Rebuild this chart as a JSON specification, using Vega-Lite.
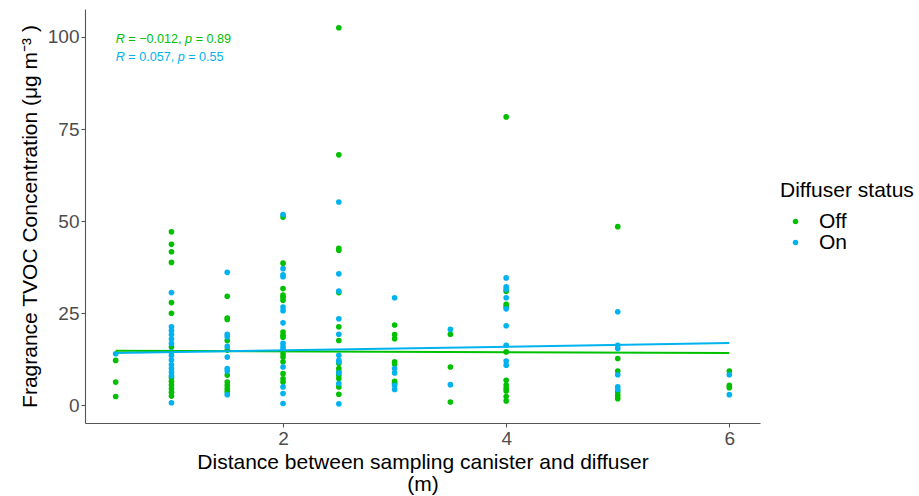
{
  "$schema": "https://vega.github.io/schema/vega-lite/v6.json",
  "width": 675,
  "height": 414,
  "autosize": {"type": "none"},
  "padding": {"left": 85, "top": 9, "right": 159, "bottom": 73},
  "background": "white",
  "config": {
    "view": {"stroke": null},
    "font": "Liberation Sans",
    "axis": {
      "grid": false,
      "domainColor": "#555555",
      "domainWidth": 1.1,
      "tickColor": "#555555",
      "tickWidth": 1.1,
      "tickSize": 4,
      "labelFont": "Liberation Sans",
      "labelFontSize": 19,
      "labelColor": "#4D4D4D",
      "labelPadding": 2,
      "titleFont": "Liberation Sans",
      "titleFontSize": 21,
      "titleFontWeight": "normal",
      "titleColor": "#000000"
    },
    "legend": {
      "titleFont": "Liberation Sans",
      "labelFont": "Liberation Sans",
      "titleFontSize": 21,
      "titleFontWeight": "normal",
      "titleColor": "#000000",
      "labelFontSize": 21,
      "labelColor": "#000000"
    }
  },
  "datasets": {
    "points": [
      {"x": 0.5, "y": 12.2, "status": "Off"}, {"x": 0.5, "y": 6.3, "status": "Off"}, {"x": 0.5, "y": 2.4, "status": "Off"},
      {"x": 0.5, "y": 14.0, "status": "On"},
      {"x": 1, "y": 47.1, "status": "Off"}, {"x": 1, "y": 43.7, "status": "Off"}, {"x": 1, "y": 41.7, "status": "Off"}, {"x": 1, "y": 38.8, "status": "Off"},
      {"x": 1, "y": 27.9, "status": "Off"}, {"x": 1, "y": 25.0, "status": "Off"}, {"x": 1, "y": 15.8, "status": "Off"}, {"x": 1, "y": 7.5, "status": "Off"},
      {"x": 1, "y": 6.5, "status": "Off"}, {"x": 1, "y": 5.5, "status": "Off"}, {"x": 1, "y": 4.5, "status": "Off"}, {"x": 1, "y": 3.5, "status": "Off"}, {"x": 1, "y": 2.5, "status": "Off"},
      {"x": 1, "y": 30.6, "status": "On"}, {"x": 1, "y": 21.3, "status": "On"}, {"x": 1, "y": 20.3, "status": "On"}, {"x": 1, "y": 19.2, "status": "On"},
      {"x": 1, "y": 18.0, "status": "On"}, {"x": 1, "y": 16.8, "status": "On"}, {"x": 1, "y": 14.5, "status": "On"}, {"x": 1, "y": 13.5, "status": "On"},
      {"x": 1, "y": 12.3, "status": "On"}, {"x": 1, "y": 11.0, "status": "On"}, {"x": 1, "y": 10.0, "status": "On"}, {"x": 1, "y": 9.0, "status": "On"},
      {"x": 1, "y": 8.0, "status": "On"}, {"x": 1, "y": 0.7, "status": "On"},
      {"x": 1.5, "y": 29.6, "status": "Off"}, {"x": 1.5, "y": 23.7, "status": "Off"}, {"x": 1.5, "y": 23.3, "status": "Off"}, {"x": 1.5, "y": 17.6, "status": "Off"},
      {"x": 1.5, "y": 15.0, "status": "Off"}, {"x": 1.5, "y": 8.2, "status": "Off"}, {"x": 1.5, "y": 6.3, "status": "Off"}, {"x": 1.5, "y": 5.4, "status": "Off"},
      {"x": 1.5, "y": 4.5, "status": "Off"}, {"x": 1.5, "y": 3.7, "status": "Off"},
      {"x": 1.5, "y": 36.1, "status": "On"}, {"x": 1.5, "y": 19.3, "status": "On"}, {"x": 1.5, "y": 18.6, "status": "On"}, {"x": 1.5, "y": 16.0, "status": "On"},
      {"x": 1.5, "y": 13.1, "status": "On"}, {"x": 1.5, "y": 10.0, "status": "On"}, {"x": 1.5, "y": 9.3, "status": "On"}, {"x": 1.5, "y": 2.9, "status": "On"},
      {"x": 2, "y": 51.1, "status": "Off"}, {"x": 2, "y": 38.6, "status": "Off"}, {"x": 2, "y": 31.7, "status": "Off"}, {"x": 2, "y": 29.9, "status": "Off"},
      {"x": 2, "y": 29.3, "status": "Off"}, {"x": 2, "y": 28.5, "status": "Off"}, {"x": 2, "y": 19.9, "status": "Off"}, {"x": 2, "y": 19.0, "status": "Off"},
      {"x": 2, "y": 18.5, "status": "Off"}, {"x": 2, "y": 14.0, "status": "Off"}, {"x": 2, "y": 13.1, "status": "Off"}, {"x": 2, "y": 11.8, "status": "Off"},
      {"x": 2, "y": 8.6, "status": "Off"}, {"x": 2, "y": 7.2, "status": "Off"}, {"x": 2, "y": 6.3, "status": "Off"},
      {"x": 2, "y": 51.8, "status": "On"}, {"x": 2, "y": 37.1, "status": "On"}, {"x": 2, "y": 35.4, "status": "On"}, {"x": 2, "y": 34.9, "status": "On"},
      {"x": 2, "y": 26.7, "status": "On"}, {"x": 2, "y": 25.7, "status": "On"}, {"x": 2, "y": 22.4, "status": "On"}, {"x": 2, "y": 16.8, "status": "On"},
      {"x": 2, "y": 15.9, "status": "On"}, {"x": 2, "y": 15.2, "status": "On"}, {"x": 2, "y": 10.4, "status": "On"}, {"x": 2, "y": 5.0, "status": "On"},
      {"x": 2, "y": 3.2, "status": "On"}, {"x": 2, "y": 0.5, "status": "On"},
      {"x": 2.5, "y": 102.5, "status": "Off"}, {"x": 2.5, "y": 68.0, "status": "Off"}, {"x": 2.5, "y": 42.6, "status": "Off"}, {"x": 2.5, "y": 42.1, "status": "Off"},
      {"x": 2.5, "y": 30.6, "status": "Off"}, {"x": 2.5, "y": 21.3, "status": "Off"}, {"x": 2.5, "y": 17.6, "status": "Off"}, {"x": 2.5, "y": 11.4, "status": "Off"},
      {"x": 2.5, "y": 10.0, "status": "Off"}, {"x": 2.5, "y": 9.1, "status": "Off"}, {"x": 2.5, "y": 8.2, "status": "Off"}, {"x": 2.5, "y": 7.3, "status": "Off"},
      {"x": 2.5, "y": 5.0, "status": "Off"}, {"x": 2.5, "y": 3.0, "status": "Off"},
      {"x": 2.5, "y": 55.2, "status": "On"}, {"x": 2.5, "y": 35.7, "status": "On"}, {"x": 2.5, "y": 31.0, "status": "On"}, {"x": 2.5, "y": 23.5, "status": "On"},
      {"x": 2.5, "y": 19.3, "status": "On"}, {"x": 2.5, "y": 13.6, "status": "On"}, {"x": 2.5, "y": 12.2, "status": "On"}, {"x": 2.5, "y": 11.8, "status": "On"},
      {"x": 2.5, "y": 8.8, "status": "On"}, {"x": 2.5, "y": 5.9, "status": "On"}, {"x": 2.5, "y": 0.4, "status": "On"},
      {"x": 3, "y": 21.8, "status": "Off"}, {"x": 3, "y": 19.2, "status": "Off"}, {"x": 3, "y": 18.1, "status": "Off"}, {"x": 3, "y": 11.8, "status": "Off"},
      {"x": 3, "y": 11.2, "status": "Off"}, {"x": 3, "y": 6.5, "status": "Off"}, {"x": 3, "y": 6.0, "status": "Off"},
      {"x": 3, "y": 29.2, "status": "On"}, {"x": 3, "y": 10.0, "status": "On"}, {"x": 3, "y": 8.8, "status": "On"}, {"x": 3, "y": 5.4, "status": "On"}, {"x": 3, "y": 4.3, "status": "On"},
      {"x": 3.5, "y": 19.3, "status": "Off"}, {"x": 3.5, "y": 10.4, "status": "Off"}, {"x": 3.5, "y": 0.9, "status": "Off"},
      {"x": 3.5, "y": 20.6, "status": "On"}, {"x": 3.5, "y": 5.6, "status": "On"},
      {"x": 4, "y": 78.3, "status": "Off"}, {"x": 4, "y": 31.0, "status": "Off"}, {"x": 4, "y": 27.4, "status": "Off"}, {"x": 4, "y": 26.7, "status": "Off"},
      {"x": 4, "y": 14.5, "status": "Off"}, {"x": 4, "y": 6.8, "status": "Off"}, {"x": 4, "y": 5.5, "status": "Off"}, {"x": 4, "y": 4.6, "status": "Off"},
      {"x": 4, "y": 3.9, "status": "Off"}, {"x": 4, "y": 2.4, "status": "Off"}, {"x": 4, "y": 1.2, "status": "Off"},
      {"x": 4, "y": 34.6, "status": "On"}, {"x": 4, "y": 32.2, "status": "On"}, {"x": 4, "y": 31.5, "status": "On"}, {"x": 4, "y": 29.2, "status": "On"},
      {"x": 4, "y": 26.2, "status": "On"}, {"x": 4, "y": 21.6, "status": "On"}, {"x": 4, "y": 16.3, "status": "On"}, {"x": 4, "y": 12.0, "status": "On"}, {"x": 4, "y": 10.9, "status": "On"},
      {"x": 5, "y": 48.5, "status": "Off"}, {"x": 5, "y": 12.7, "status": "Off"}, {"x": 5, "y": 9.3, "status": "Off"}, {"x": 5, "y": 3.6, "status": "Off"},
      {"x": 5, "y": 2.7, "status": "Off"}, {"x": 5, "y": 1.8, "status": "Off"},
      {"x": 5, "y": 25.4, "status": "On"}, {"x": 5, "y": 16.3, "status": "On"}, {"x": 5, "y": 15.4, "status": "On"}, {"x": 5, "y": 8.3, "status": "On"},
      {"x": 5, "y": 5.0, "status": "On"}, {"x": 5, "y": 4.3, "status": "On"},
      {"x": 6, "y": 9.3, "status": "Off"}, {"x": 6, "y": 5.4, "status": "Off"}, {"x": 6, "y": 4.8, "status": "Off"},
      {"x": 6, "y": 8.3, "status": "On"}, {"x": 6, "y": 2.9, "status": "On"}
    ],
    "lineOff": [{"x": 0.5, "y": 14.8}, {"x": 6, "y": 14.2}],
    "lineOn": [{"x": 0.5, "y": 14.2}, {"x": 6, "y": 16.9}],
    "labR": [{"x": 0.5, "y": 99.5, "t": "R", "status": "Off"}, {"x": 0.5, "y": 94.6, "t": "R", "status": "On"}],
    "labEq": [{"x": 0.5, "y": 99.5, "t": "= \u22120.012,", "status": "Off"}, {"x": 0.5, "y": 94.6, "t": "= 0.057,", "status": "On"}],
    "labPOff": [{"x": 0.5, "y": 99.5, "t": "p"}],
    "labPvOff": [{"x": 0.5, "y": 99.5, "t": "= 0.89"}],
    "labPOn": [{"x": 0.5, "y": 94.6, "t": "p"}],
    "labPvOn": [{"x": 0.5, "y": 94.6, "t": "= 0.55"}]
  },
  "layer": [
    {
      "data": {"name": "points"},
      "mark": {"type": "circle", "size": 32, "opacity": 1},
      "encoding": {
        "x": {
          "field": "x", "type": "quantitative",
          "scale": {"domain": [0.225, 6.275], "nice": false, "zero": false},
          "axis": {"values": [2, 4, 6], "format": "d", "title": ["Distance between sampling canister and diffuser", "(m)"], "titlePadding": 3, "titleLineHeight": 22}
        },
        "y": {
          "field": "y", "type": "quantitative",
          "scale": {"domain": [-4.8, 107.6], "nice": false, "zero": false},
          "axis": {"values": [0, 25, 50, 75, 100], "title": "Fragrance TVOC Concentration  (\u03bcg m\u207b\u00b3 )", "titlePadding": 7}
        },
        "color": {
          "field": "status", "type": "nominal",
          "scale": {"domain": ["Off", "On"], "range": ["#00C000", "#00B2EE"]},
          "legend": {
            "title": "Diffuser status", "orient": "none", "legendX": 695, "legendY": 171,
            "symbolType": "circle", "symbolSize": 30, "symbolOpacity": 1, "symbolOffset": 5,
            "rowPadding": -1, "titlePadding": 10, "labelOffset": 13
          }
        }
      }
    },
    {
      "data": {"name": "lineOff"},
      "mark": {"type": "line", "color": "#00C000", "strokeWidth": 2},
      "encoding": {"x": {"field": "x", "type": "quantitative"}, "y": {"field": "y", "type": "quantitative"}}
    },
    {
      "data": {"name": "lineOn"},
      "mark": {"type": "line", "color": "#00B2EE", "strokeWidth": 2},
      "encoding": {"x": {"field": "x", "type": "quantitative"}, "y": {"field": "y", "type": "quantitative"}}
    },
    {
      "data": {"name": "labR"},
      "mark": {"type": "text", "align": "left", "baseline": "middle", "fontSize": 12.6, "fontStyle": "italic", "dx": 0},
      "encoding": {"x": {"field": "x", "type": "quantitative"}, "y": {"field": "y", "type": "quantitative"}, "text": {"field": "t"}, "color": {"field": "status", "type": "nominal"}}
    },
    {
      "data": {"name": "labEq"},
      "mark": {"type": "text", "align": "left", "baseline": "middle", "fontSize": 12.6, "dx": 12.6},
      "encoding": {"x": {"field": "x", "type": "quantitative"}, "y": {"field": "y", "type": "quantitative"}, "text": {"field": "t"}, "color": {"field": "status", "type": "nominal"}}
    },
    {
      "data": {"name": "labPOff"},
      "mark": {"type": "text", "align": "left", "baseline": "middle", "fontSize": 12.6, "fontStyle": "italic", "dx": 69.4, "color": "#00C000"},
      "encoding": {"x": {"field": "x", "type": "quantitative"}, "y": {"field": "y", "type": "quantitative"}, "text": {"field": "t"}}
    },
    {
      "data": {"name": "labPvOff"},
      "mark": {"type": "text", "align": "left", "baseline": "middle", "fontSize": 12.6, "dx": 80, "color": "#00C000"},
      "encoding": {"x": {"field": "x", "type": "quantitative"}, "y": {"field": "y", "type": "quantitative"}, "text": {"field": "t"}}
    },
    {
      "data": {"name": "labPOn"},
      "mark": {"type": "text", "align": "left", "baseline": "middle", "fontSize": 12.6, "fontStyle": "italic", "dx": 62, "color": "#00B2EE"},
      "encoding": {"x": {"field": "x", "type": "quantitative"}, "y": {"field": "y", "type": "quantitative"}, "text": {"field": "t"}}
    },
    {
      "data": {"name": "labPvOn"},
      "mark": {"type": "text", "align": "left", "baseline": "middle", "fontSize": 12.6, "dx": 72.5, "color": "#00B2EE"},
      "encoding": {"x": {"field": "x", "type": "quantitative"}, "y": {"field": "y", "type": "quantitative"}, "text": {"field": "t"}}
    }
  ]
}
